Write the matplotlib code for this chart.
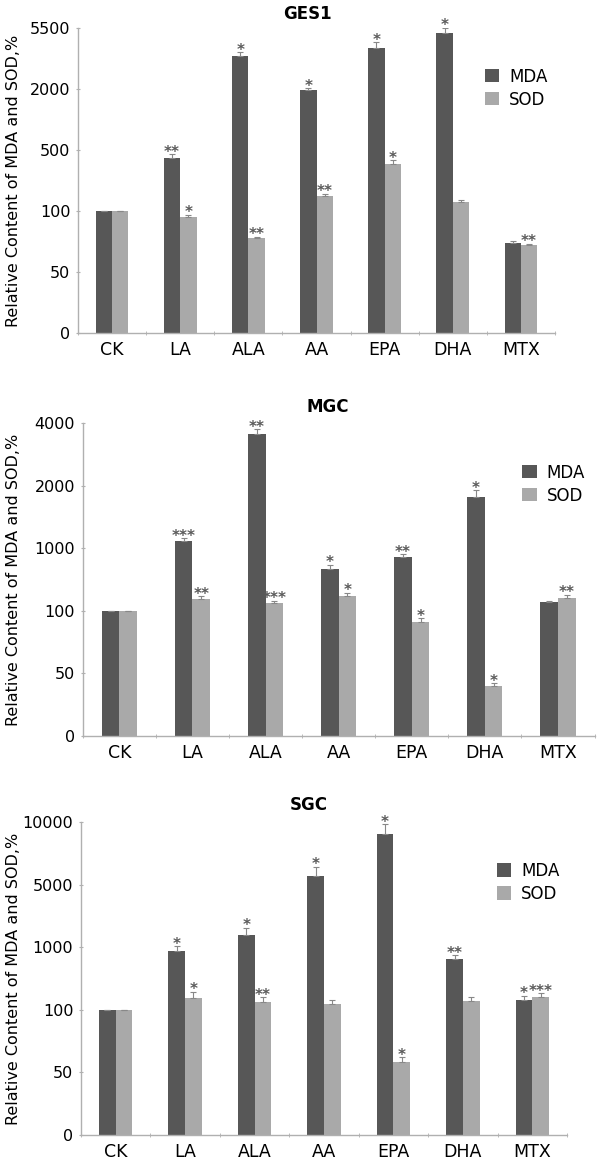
import numpy as np
import matplotlib
matplotlib.use("Agg")
import matplotlib.pyplot as plt
from matplotlib.patches import Patch

plt.rcParams['font.family'] = ['DejaVu Sans']

categories = ["CK", "LA", "ALA", "AA", "EPA", "DHA", "MTX"]

# GES1
ges1_ticks = [0, 50, 100, 500, 2000, 5500]
ges1_mda = [100, 448, 3890, 1970, 4345, 5220, 74]
ges1_sod = [100, 95, 78, 200, 408, 160, 72]
ges1_mda_err = [0, 25, 230, 80, 350, 300, 1]
ges1_sod_err = [0, 2, 1, 12, 25, 10, 1]
ges1_mda_sig = ["", "**", "*", "*", "*", "*", ""]
ges1_sod_sig = ["", "*", "**", "**", "*", "", "**"]

# MGC
mgc_ticks = [0, 50, 100, 1000, 2000, 4000]
mgc_mda = [100, 1120, 3640, 703, 874, 1820, 226]
mgc_sod = [100, 271, 217, 316, 91, 40, 289]
mgc_mda_err = [0, 40, 160, 60, 40, 110, 10]
mgc_sod_err = [0, 40, 30, 45, 3, 2, 40]
mgc_mda_sig = ["", "***", "**", "*", "**", "*", ""]
mgc_sod_sig = ["", "**", "***", "*", "*", "*", "**"]

# SGC
sgc_ticks = [0, 50, 100, 1000, 5000, 10000]
sgc_mda = [100, 946, 1760, 5700, 9050, 829, 244]
sgc_sod = [100, 271, 208, 181, 58, 226, 280]
sgc_mda_err = [0, 120, 500, 750, 800, 60, 60]
sgc_sod_err = [0, 90, 70, 60, 4, 60, 60]
sgc_mda_sig = ["", "*", "*", "*", "*", "**", "*"]
sgc_sod_sig = ["", "*", "**", "", "*", "", "***"]

MDA_COLOR = "#575757"
SOD_COLOR = "#a9a9a9"
AX_COLOR = "#b0b0b0"

fig = plt.figure(figsize=(6.0, 11.63), dpi=100)

panels = [
    dict(title="GES1", ticks=ges1_ticks, mda=ges1_mda, sod=ges1_sod,
         me=ges1_mda_err, se=ges1_sod_err, ms=ges1_mda_sig, ss=ges1_sod_sig,
         rect=[0.130, 0.7137, 0.795, 0.2623], title_xy=(307, 14),
         leg=(0.853, 0.803), ylab_x=-0.1195),
    dict(title="MGC", ticks=mgc_ticks, mda=mgc_mda, sod=mgc_sod,
         me=mgc_mda_err, se=mgc_sod_err, ms=mgc_mda_sig, ss=mgc_sod_sig,
         rect=[0.138, 0.3672, 0.853, 0.2690], title_xy=(328, 407),
         leg=(0.859, 0.805), ylab_x=-0.121),
    dict(title="SGC", ticks=sgc_ticks, mda=sgc_mda, sod=sgc_sod,
         me=sgc_mda_err, se=sgc_sod_err, ms=sgc_mda_sig, ss=sgc_sod_sig,
         rect=[0.135, 0.0241, 0.810, 0.2690], title_xy=(309, 805),
         leg=(0.856, 0.808), ylab_x=-0.123),
]

x = np.arange(len(categories))
w = 0.24

for p in panels:
    ax = fig.add_axes(p["rect"])
    tv = np.array(p["ticks"], dtype=float)
    tp = np.arange(len(tv), dtype=float)

    def fwd(v, tv=tv, tp=tp):
        return np.interp(v, tv, tp)

    def inv(u, tv=tv, tp=tp):
        return np.interp(u, tp, tv)

    ax.set_yscale("function", functions=(fwd, inv))
    ax.set_ylim(0, tv[-1])
    ax.set_xlim(-0.5, len(categories) - 0.5)

    ax.bar(x - w / 2, p["mda"], w, color=MDA_COLOR, label="MDA", zorder=2)
    ax.bar(x + w / 2, p["sod"], w, color=SOD_COLOR, label="SOD", zorder=2)
    ax.errorbar(x - w / 2, p["mda"], yerr=[np.zeros(len(x)), p["me"]], fmt="none",
                ecolor="#888888", elinewidth=0.8, capsize=2.5, capthick=0.8, zorder=3)
    ax.errorbar(x + w / 2, p["sod"], yerr=[np.zeros(len(x)), p["se"]], fmt="none",
                ecolor="#888888", elinewidth=0.8, capsize=2.5, capthick=0.8, zorder=3)

    for i in range(len(x)):
        for xo, val, err, sig in [(x[i] - w / 2, p["mda"][i], p["me"][i], p["ms"][i]),
                                  (x[i] + w / 2, p["sod"][i], p["se"][i], p["ss"][i])]:
            if sig:
                ax.annotate(sig, (xo, val + err), xytext=(0, -4), textcoords="offset points",
                            ha="center", va="bottom", fontsize=11, color="#5a5a5a",
                            fontweight="bold")

    ax.set_yticks(tv)
    ax.set_yticklabels([str(int(t)) for t in tv], fontsize=11.5)
    ax.set_xticks(x)
    ax.set_xticklabels(categories, fontsize=12.5)
    ax.set_xticks(np.arange(-0.5, len(categories), 1.0), minor=True)
    ax.tick_params(axis="x", which="major", length=0, pad=6)
    ax.tick_params(axis="x", which="minor", length=3, color=AX_COLOR, direction="inout")
    ax.tick_params(axis="y", which="major", length=3, color=AX_COLOR, direction="inout", pad=4)
    ax.tick_params(axis="y", which="minor", length=0)
    for s in ["top", "right"]:
        ax.spines[s].set_visible(False)
    for s in ["left", "bottom"]:
        ax.spines[s].set_color(AX_COLOR)
        ax.spines[s].set_linewidth(1.0)
    ax.set_ylabel("Relative Content of MDA and SOD,%", fontsize=11.5)
    ax.yaxis.set_label_coords(p["ylab_x"], 0.5)

    handles = [Patch(facecolor=MDA_COLOR, label="MDA"), Patch(facecolor=SOD_COLOR, label="SOD")]
    ax.legend(handles=handles, loc="center left", bbox_to_anchor=p["leg"], frameon=False,
              fontsize=12, handlelength=0.85, handleheight=0.85, handletextpad=0.6,
              labelspacing=0.3, borderpad=0, borderaxespad=0)

    tx, ty = p["title_xy"]
    fig.text(tx / 600, 1 - ty / 1163, p["title"], ha="center", va="center",
             fontsize=12, fontweight="bold")

fig.savefig("out.png", dpi=100)
